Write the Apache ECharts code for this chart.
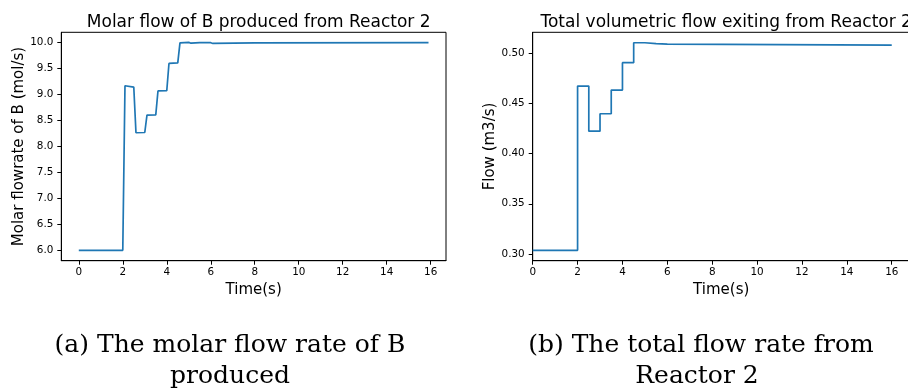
<!DOCTYPE html>
<html>
<head>
<meta charset="utf-8">
<script src="https://cdn.jsdelivr.net/npm/echarts@6/dist/echarts.min.js"></script>
<style>
html,body{margin:0;padding:0;background:#fff;}
#c{width:908px;height:391px;}
</style>
</head>
<body>
<div id="c"></div>
<script>
// ---- data ----
var timeB = [0, 2.0, 2.1, 2.5, 2.6, 3.0, 3.1, 3.5, 3.6, 4.0, 4.1, 4.5, 4.6, 5.0, 5.1, 5.5, 6.0, 6.1, 8.0, 15.9];
var molarB = [6.0, 6.0, 9.17, 9.145, 8.265, 8.27, 8.605, 8.61, 9.07, 9.075, 9.6, 9.61, 9.995, 10.005, 9.99, 10.0, 10.0, 9.985, 9.995, 10.0];

var timeF = [0, 2.0, 2.5, 3.0, 3.5, 4.0, 4.5, 5.0, 5.5, 6.0, 16.0];
var flowF = [0.3037, 0.467, 0.4222, 0.4395, 0.4631, 0.4903, 0.5101, 0.5093, 0.5088, 0.5078, 0.5078];

var xTicks = [0, 2, 4, 6, 8, 10, 12, 14, 16];
var yTicksB = [6.0, 6.5, 7.0, 7.5, 8.0, 8.5, 9.0, 9.5, 10.0];
var yTicksF = [0.30, 0.35, 0.40, 0.45, 0.50];

var titleA = 'Molar flow of B produced from Reactor 2';
var titleB = 'Total volumetric flow exiting from Reactor 2';
var yNameA = 'Molar flowrate of B (mol/s)';
var yNameB = 'Flow (m3/s)';
var xName = 'Time(s)';
var capA = ['(a) The molar flow rate of B', 'produced'];
var capB = ['(b) The total flow rate from', 'Reactor 2'];

function pairs(xs, ys){ return xs.map(function(x,i){ return [x, ys[i]]; }); }

var SANS = 'DejaVu Sans';
var SERIF = 'DejaVu Serif';
var nameFont = {fontFamily: SANS, fontSize: 15, color: '#000'};

function xAxisCfg(gi, min, max){
  return {
    type: 'value', gridIndex: gi, min: min, max: max,
    name: xName, nameLocation: 'middle', nameGap: 22, nameTextStyle: nameFont,
    axisLine: {show: true, onZero: false, lineStyle: {color: '#000', width: 1}},
    axisTick: {show: true, length: 4, lineStyle: {color: '#000', width: 1}, customValues: xTicks},
    axisLabel: {show: true, margin: 7, customValues: xTicks, formatter: function(v){return String(v);}, fontFamily: SANS, fontSize: 10.4, color: '#000'},
    splitLine: {show: false}
  };
}
function yAxisCfg(gi, min, max, ticks, dec, name){
  return {
    type: 'value', gridIndex: gi, min: min, max: max,
    name: name, nameLocation: 'middle', nameGap: 35, nameTextStyle: nameFont,
    axisLine: {show: true, onZero: false, lineStyle: {color: '#000', width: 1}},
    axisTick: {show: true, length: 4, lineStyle: {color: '#000', width: 1}, customValues: ticks},
    axisLabel: {show: true, margin: 8, customValues: ticks, formatter: function(v){return v.toFixed(dec);}, fontFamily: SANS, fontSize: 10.4, color: '#000'},
    splitLine: {show: false}
  };
}

var chart = echarts.init(document.getElementById('c'), null, {renderer: 'canvas'});
var option = {
  animation: false,
  backgroundColor: '#fff',
  title: [
    {text: titleA, left: 253.7, top: 9, textAlign: 'center', textStyle: {fontFamily: SANS, fontSize: 17, fontWeight: 'normal', color: '#000'}},
    {text: titleB, left: 721.2, top: 9, textAlign: 'center', textStyle: {fontFamily: SANS, fontSize: 17, fontWeight: 'normal', color: '#000'}}
  ],
  grid: [
    {left: 61.3, top: 32.3, width: 384.7, height: 228.4, show: true, borderColor: '#000', borderWidth: 1, backgroundColor: 'transparent', containLabel: false, outerBoundsMode: 'none'},
    {left: 532.7, top: 32.3, width: 377, height: 228.4, show: true, borderColor: '#000', borderWidth: 1, backgroundColor: 'transparent', containLabel: false, outerBoundsMode: 'none'}
  ],
  xAxis: [xAxisCfg(0, -0.795, 16.695), xAxisCfg(1, 0, 16.8)],
  yAxis: [yAxisCfg(0, 5.8, 10.2, yTicksB, 1, yNameA), yAxisCfg(1, 0.2934, 0.5205, yTicksF, 2, yNameB)],
  series: [
    {type: 'line', xAxisIndex: 0, yAxisIndex: 0, data: pairs(timeB, molarB), showSymbol: false, symbol: 'none',
     lineStyle: {color: '#1f77b4', width: 1.7}, clip: true},
    {type: 'line', xAxisIndex: 1, yAxisIndex: 1, data: pairs(timeF, flowF), step: 'end', showSymbol: false, symbol: 'none',
     lineStyle: {color: '#1f77b4', width: 1.7}, clip: true}
  ],
  graphic: [
    {type: 'text', x: 230, y: 345, style: {text: capA[0], font: '25px "' + SERIF + '"', fill: '#000', align: 'center', verticalAlign: 'middle'}},
    {type: 'text', x: 230, y: 376, style: {text: capA[1], font: '25px "' + SERIF + '"', fill: '#000', align: 'center', verticalAlign: 'middle'}},
    {type: 'text', x: 701, y: 345, style: {text: capB[0], font: '25px "' + SERIF + '"', fill: '#000', align: 'center', verticalAlign: 'middle'}},
    {type: 'text', x: 697, y: 376, style: {text: capB[1], font: '25px "' + SERIF + '"', fill: '#000', align: 'center', verticalAlign: 'middle'}}
  ]
};
chart.setOption(option);
</script>
</body>
</html>
